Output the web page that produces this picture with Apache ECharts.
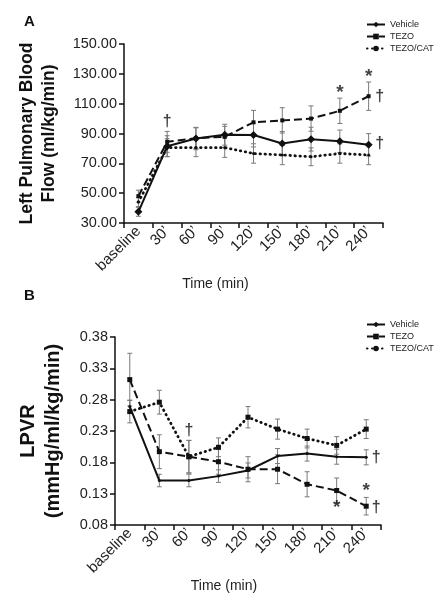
<!DOCTYPE html>
<html>
<head>
<meta charset="utf-8">
<script src="https://cdn.jsdelivr.net/npm/echarts@6/dist/echarts.min.js"></script>
<style>html,body{margin:0;padding:0;background:#fff;}#c{width:440px;height:600px;}</style>
</head>
<body>
<div id="c"></div>
<script>
// ---- data ----
const categories = ['baseline', '30\u2019', '60\u2019', '90\u2019', '120\u2019', '150\u2019', '180\u2019', '210\u2019', '240\u2019'];
const seriesNames = ['Vehicle', 'TEZO', 'TEZO/CAT'];

// Panel A: Left pulmonary blood flow (ml/kg/min)
const flowVehicle = [37.5, 81.5, 86.6, 89.2, 89.0, 83.3, 86.2, 84.8, 82.4];
const flowTezo    = [48.0, 84.4, 86.8, 87.8, 97.5, 98.8, 100.0, 105.2, 115.0];
const flowCat     = [44.0, 80.5, 80.5, 80.5, 76.6, 75.6, 74.4, 76.6, 75.6];
const flowVehicleSE = [3, 7, 7.5, 7, 8, 8, 8, 7.5, 7.5];
const flowTezoSE    = [4, 7, 7, 7, 8, 8.5, 8.5, 8.5, 9.5];
const flowCatSE     = [3, 6, 6, 6.5, 6.5, 6.5, 6, 6.5, 6.5];
const flowTicks = [30, 50, 70, 90, 110, 130, 150];

// Panel B: LPVR (mmHg/ml/kg/min)
const lpvrVehicle = [0.269, 0.151, 0.151, 0.158, 0.167, 0.190, 0.194, 0.189, 0.188];
const lpvrTezo    = [0.312, 0.197, 0.189, 0.181, 0.169, 0.169, 0.145, 0.135, 0.110];
const lpvrCat     = [0.261, 0.276, 0.189, 0.204, 0.252, 0.233, 0.218, 0.207, 0.233];
const lpvrVehicleSE = [0.010, 0.010, 0.010, 0.010, 0.012, 0.012, 0.012, 0.012, 0.012];
const lpvrTezoSE    = [0.042, 0.027, 0.026, 0.020, 0.020, 0.023, 0.020, 0.020, 0.014];
const lpvrCatSE     = [0.018, 0.019, 0.026, 0.015, 0.017, 0.016, 0.015, 0.014, 0.015];
const lpvrTicks = [0.08, 0.13, 0.18, 0.23, 0.28, 0.33, 0.38];

// significance marks
const annATexts = ['\u2020', '*', '*', '\u2020', '\u2020'];
const annACats  = ['30\u2019', '210\u2019', '240\u2019', '240\u2019', '240\u2019'];
const annAVals  = [98, 117, 128, 114.6, 83];
const annBTexts = ['\u2020', '\u2020', '*', '*', '\u2020'];
const annBCats  = ['60\u2019', '240\u2019', '210\u2019', '240\u2019', '240\u2019'];
const annBVals  = [0.231, 0.187, 0.108, 0.134, 0.107];
const annADx = [0, 0, 0, 11, 11];
const annBDx = [0, 10, 0, 0, 10];

// ---- chart ----
const FONT = "Arial, 'Liberation Sans', sans-serif";
const chart = echarts.init(document.getElementById('c'), null, {renderer: 'canvas'});

function errRender(params, api) {
  const x = api.value(0), lo = api.value(1), hi = api.value(2);
  const a = api.coord([x, hi]), b = api.coord([x, lo]);
  const w = 2.5;
  const style = {stroke: '#7a7a7a', lineWidth: 1};
  return {type: 'group', children: [
    {type: 'line', shape: {x1: a[0], y1: a[1], x2: b[0], y2: b[1]}, style: style},
    {type: 'line', shape: {x1: a[0] - w, y1: a[1], x2: a[0] + w, y2: a[1]}, style: style},
    {type: 'line', shape: {x1: b[0] - w, y1: b[1], x2: b[0] + w, y2: b[1]}, style: style}
  ]};
}
function errData(v, se) { return v.map((y, i) => [i, y - se[i], y + se[i]]); }
function errSeries(v, se, gi) {
  return {type: 'custom', xAxisIndex: gi, yAxisIndex: gi, renderItem: errRender,
    data: errData(v, se), z: 1, silent: true};
}
function annSeries(texts, cats, vals, dx, gi) {
  return {type: 'scatter', xAxisIndex: gi, yAxisIndex: gi, symbolSize: 1, silent: true,
    itemStyle: {color: 'rgba(0,0,0,0)'}, z: 5,
    data: texts.map((t, i) => ({name: t, value: [categories.indexOf(cats[i]), vals[i]],
      label: {offset: [dx[i], 0], fontSize: t === '*' ? 19 : 16}})),
    label: {show: true, position: 'inside', formatter: '{b}', color: '#111',
      fontFamily: FONT, fontSize: 16, fontWeight: 'bold'}};
}

const lineStyles = [
  {color: '#111', width: 2, type: 'solid'},
  {color: '#111', width: 2, type: [8, 4]},
  {color: '#111', width: 2.8, type: [0.5, 4.5], cap: 'round'}
];
const symA = [{symbol: 'diamond', size: 8}, {symbol: 'rect', size: 4}, {symbol: 'circle', size: 3}];
const symB = [{symbol: 'circle', size: 3}, {symbol: 'rect', size: 5}, {symbol: 'rect', size: 5}];

function lineSeries(name, data, i, gi, sym) {
  return {type: 'line', name: name, xAxisIndex: gi, yAxisIndex: gi, data: data,
    symbol: sym[i].symbol, symbolSize: sym[i].size, showSymbol: true,
    itemStyle: {color: '#111'}, lineStyle: lineStyles[i], z: 3, silent: true};
}

function xAxis(gi, padRight, gap) {
  return {type: 'category', gridIndex: gi, data: categories, boundaryGap: true,
    axisLine: {lineStyle: {color: '#111', width: 1.5}},
    axisTick: {show: true, inside: false, length: 5, alignWithLabel: false, lineStyle: {color: '#111', width: 1.5}},
    axisLabel: {rotate: 45, fontSize: 15, color: '#222', fontFamily: FONT, margin: 6, interval: 0},
    splitLine: {show: false},
    name: 'Time (min)', nameLocation: 'middle', nameGap: gap,
    nameTextStyle: {fontSize: 14, color: '#222', fontFamily: FONT, padding: [0, padRight, 0, 0]}};
}
function yAxis(gi, ticks, fmt, name, nameSize, nameGap, lh) {
  return {type: 'value', gridIndex: gi, min: ticks[0], max: ticks[ticks.length - 1],
    axisLine: {show: true, lineStyle: {color: '#111', width: 1.5}},
    axisTick: {show: true, inside: false, length: 5, customValues: ticks, lineStyle: {color: '#111', width: 1.5}},
    axisLabel: {customValues: ticks, formatter: fmt, fontSize: 14.5, color: '#222', fontFamily: FONT, margin: 7},
    splitLine: {show: false},
    name: name, nameLocation: 'middle', nameRotate: 90, nameGap: nameGap,
    nameTextStyle: {fontSize: nameSize, fontWeight: 'bold', color: '#111', fontFamily: FONT, lineHeight: lh}};
}

const legendCommon = {orient: 'vertical', data: seriesNames, itemWidth: 18, itemHeight: 7, itemGap: 3,
  textStyle: {fontSize: 9, color: '#222', fontFamily: FONT}, padding: 0, selectedMode: false};

const option = {
  animation: false,
  backgroundColor: '#fff',
  title: [
    {text: 'A', left: 19, top: 9, textStyle: {fontSize: 15, fontWeight: 'bold', color: '#111', fontFamily: FONT}},
    {text: 'B', left: 19, top: 283, textStyle: {fontSize: 15, fontWeight: 'bold', color: '#111', fontFamily: FONT}}
  ],
  legend: [
    Object.assign({left: 366, top: 20}, legendCommon),
    Object.assign({left: 366, top: 320}, legendCommon)
  ],
  grid: [
    {left: 124, top: 44, width: 259, height: 179},
    {left: 115, top: 337, width: 266, height: 188}
  ],
  xAxis: [xAxis(0, 76, 42), xAxis(1, 48, 46)],
  yAxis: [
    yAxis(0, flowTicks, v => v.toFixed(2), 'Left Pulmonary Blood\nFlow (ml/kg/min)', 17.5, 64, 22),
    yAxis(1, lpvrTicks, v => v.toFixed(2), 'LPVR\n(mmHg/ml/kg/min)', 20, 49, 25)
  ],
  series: [
    errSeries(flowVehicle, flowVehicleSE, 0),
    errSeries(flowTezo, flowTezoSE, 0),
    errSeries(flowCat, flowCatSE, 0),
    lineSeries(seriesNames[0], flowVehicle, 0, 0, symA),
    lineSeries(seriesNames[1], flowTezo, 1, 0, symA),
    lineSeries(seriesNames[2], flowCat, 2, 0, symA),
    annSeries(annATexts, annACats, annAVals, annADx, 0),
    errSeries(lpvrVehicle, lpvrVehicleSE, 1),
    errSeries(lpvrTezo, lpvrTezoSE, 1),
    errSeries(lpvrCat, lpvrCatSE, 1),
    lineSeries(seriesNames[0], lpvrVehicle, 0, 1, symB),
    lineSeries(seriesNames[1], lpvrTezo, 1, 1, symB),
    lineSeries(seriesNames[2], lpvrCat, 2, 1, symB),
    annSeries(annBTexts, annBCats, annBVals, annBDx, 1)
  ]
};
chart.setOption(option);
</script>
</body>
</html>
